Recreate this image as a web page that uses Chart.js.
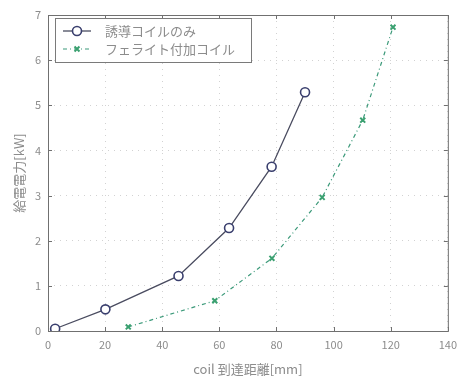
<!DOCTYPE html>
<html>
<head>
<meta charset="utf-8">
<script src="https://cdn.jsdelivr.net/npm/chart.js@4/dist/chart.umd.min.js"></script>
<style>
  html, body { margin: 0; padding: 0; background: #fff; }
  #wrap { width: 464px; height: 380px; }
</style>
</head>
<body>
<div id="wrap"><canvas id="c" width="464" height="380"></canvas></div>
<script>
// Coil only: distance [mm] and supplied power [kW]
const coilDistance = [2.5, 20.1, 45.7, 63.4, 78.3, 90.0];
const coilPower    = [0.05, 0.48, 1.22, 2.28, 3.64, 5.29];

// Ferrite-added coil
const ferriteDistance = [28.1, 58.4, 78.4, 96.0, 110.2, 120.8];
const ferritePower    = [0.09, 0.67, 1.61, 2.96, 4.67, 6.73];

const seriesNames = ['誘導コイルのみ', 'フェライト付加コイル'];
const xTicks = [0, 20, 40, 60, 80, 100, 120, 140];
const yTicks = [0, 1, 2, 3, 4, 5, 6, 7];
const xTitle = 'coil 到達距離[mm]';
const yTitle = '給電電力[kW]';

const FONT = '"Noto Sans CJK JP", "Noto Sans", sans-serif';
const TEXT = '#8c8c8c';

function toPoints(xs, ys) { return xs.map((x, i) => ({ x: x, y: ys[i] })); }

// Box around the plot, inward ticks on all four sides, and the legend box
const framePlugin = {
  id: 'frame',
  afterDatasetsDraw(chart) {
    const { ctx, chartArea: a, scales } = chart;
    ctx.save();
    ctx.strokeStyle = '#707070';
    ctx.lineWidth = 1;
    ctx.strokeRect(a.left + 0.5, a.top + 0.5, a.right - a.left, a.bottom - a.top);
    const t = 4;
    ctx.beginPath();
    xTicks.forEach(v => {
      const px = Math.round(scales.x.getPixelForValue(v)) + 0.5;
      ctx.moveTo(px, a.bottom); ctx.lineTo(px, a.bottom - t);
      ctx.moveTo(px, a.top); ctx.lineTo(px, a.top + t);
    });
    yTicks.forEach(v => {
      const py = Math.round(scales.y.getPixelForValue(v)) + 0.5;
      ctx.moveTo(a.left, py); ctx.lineTo(a.left + t, py);
      ctx.moveTo(a.right, py); ctx.lineTo(a.right - t, py);
    });
    ctx.stroke();

    // legend
    const bx = 55, by = 18, bw = 196, bh = 44;
    ctx.fillStyle = '#fff';
    ctx.fillRect(bx, by, bw, bh);
    ctx.strokeStyle = '#7a7a7a';
    ctx.strokeRect(bx + 0.5, by + 0.5, bw, bh);
    const rows = [by + 13, by + 31];
    chart.data.datasets.forEach((ds, i) => {
      const y = rows[i];
      const mx = bx + 22;
      ctx.save();
      ctx.strokeStyle = ds.borderColor;
      ctx.lineWidth = ds.borderWidth;
      ctx.setLineDash(ds.borderDash || []);
      ctx.beginPath();
      ctx.moveTo(bx + 8, y); ctx.lineTo(bx + 36, y);
      ctx.stroke();
      ctx.setLineDash([]);
      ctx.fillStyle = ds.pointBackgroundColor;
      ctx.strokeStyle = ds.pointBorderColor;
      ctx.lineWidth = ds.pointBorderWidth;
      Chart.helpers.drawPoint(ctx, {
        pointStyle: ds.pointStyle, radius: ds.pointRadius, rotation: 0,
        borderWidth: ds.pointBorderWidth
      }, mx, y);
      ctx.restore();
      ctx.fillStyle = TEXT;
      ctx.font = '13px ' + FONT;
      ctx.textBaseline = 'middle';
      ctx.fillText(seriesNames[i], bx + 50, y);
    });
    ctx.restore();
  }
};

new Chart(document.getElementById('c'), {
  type: 'scatter',
  data: {
    datasets: [
      {
        label: seriesNames[0],
        data: toPoints(coilDistance, coilPower),
        showLine: true,
        borderColor: '#4a4c60',
        borderWidth: 1.3,
        pointStyle: 'circle',
        pointRadius: 4.5,
        pointBorderWidth: 1.6,
        pointBorderColor: '#3a3f6e',
        pointBackgroundColor: '#ffffff'
      },
      {
        label: seriesNames[1],
        data: toPoints(ferriteDistance, ferritePower),
        showLine: true,
        borderColor: '#3c9a7a',
        borderWidth: 1.2,
        borderDash: [4, 3, 1, 3],
        pointStyle: 'crossRot',
        pointRadius: 3.5,
        pointBorderWidth: 2,
        pointBorderColor: '#3aa070',
        pointBackgroundColor: '#3aa070'
      }
    ]
  },
  options: {
    responsive: false,
    animation: false,
    layout: { padding: { top: 15, right: 11, left: 8, bottom: 0 } },
    plugins: { legend: { display: false }, tooltip: { enabled: false } },
    scales: {
      x: {
        type: 'linear', min: 0, max: 140,
        afterBuildTicks: s => { s.ticks = xTicks.map(v => ({ value: v })); },
        afterFit: s => { s.height = 49; },
        grid: { color: '#d2d2d2', drawTicks: false, lineWidth: 1 },
        border: { display: false, dash: [1, 5] },
        ticks: { color: TEXT, font: { size: 11, family: FONT }, padding: 7 },
        title: { display: true, text: xTitle, color: TEXT, font: { size: 13, family: FONT }, padding: { top: 2, bottom: 3 } }
      },
      y: {
        type: 'linear', min: 0, max: 7,
        afterBuildTicks: s => { s.ticks = yTicks.map(v => ({ value: v })); },
        afterFit: s => { s.width = 40; },
        grid: { color: '#d2d2d2', drawTicks: false, lineWidth: 1 },
        border: { display: false, dash: [1, 5] },
        ticks: { color: TEXT, font: { size: 11, family: FONT }, padding: 7 },
        title: { display: true, text: yTitle, color: TEXT, font: { size: 13, family: FONT }, padding: { top: 3, bottom: 4 } }
      }
    }
  },
  plugins: [framePlugin]
});
</script>
</body>
</html>
